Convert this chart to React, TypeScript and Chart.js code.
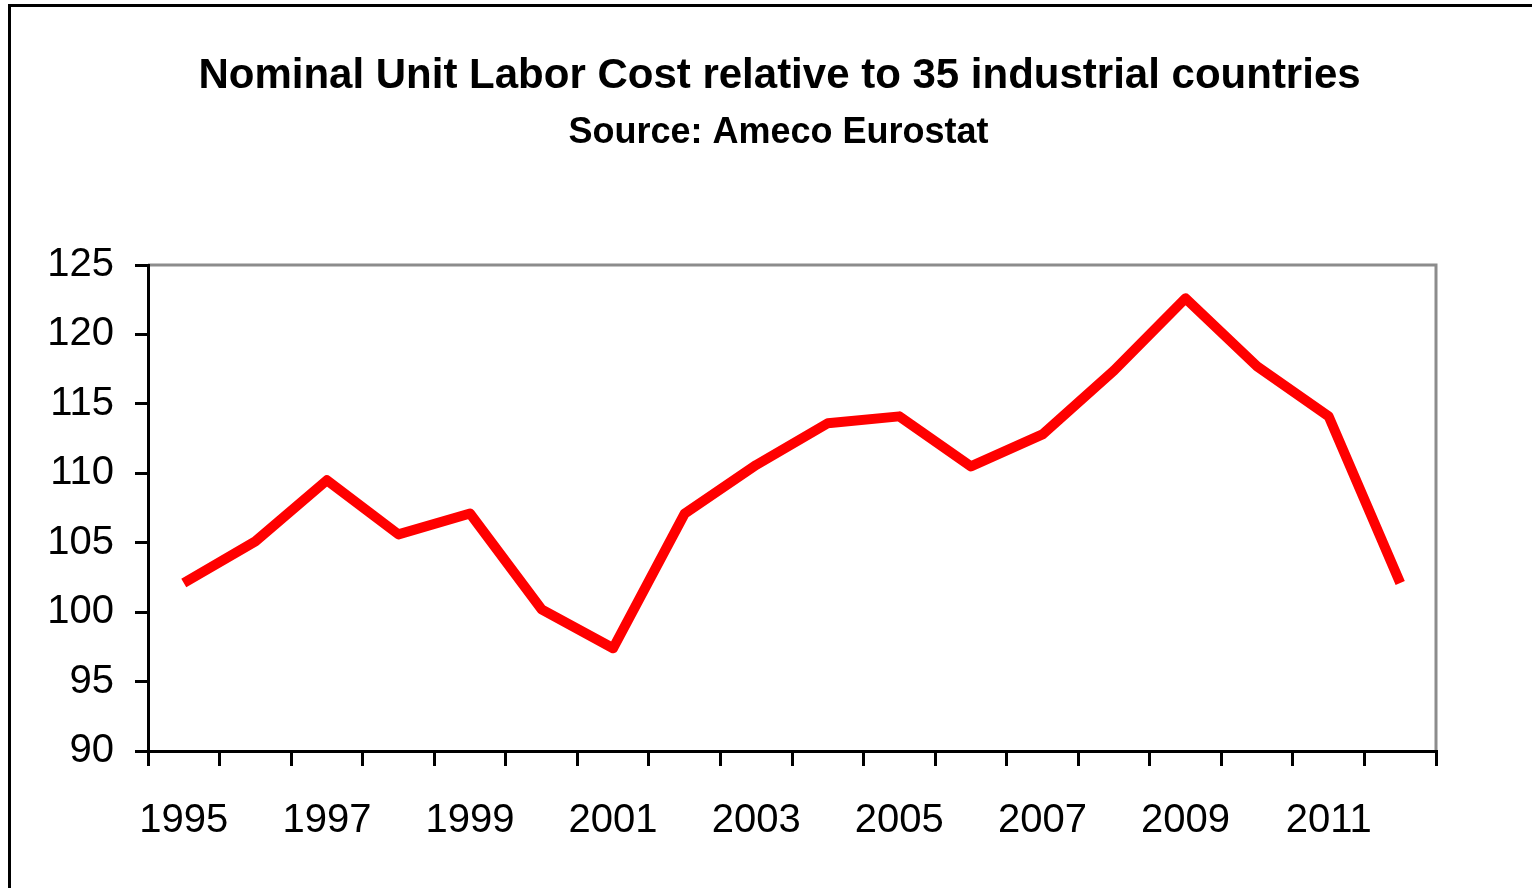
import React, { useEffect, useRef } from "react";
import { Chart, registerables } from "chart.js";

Chart.register(...registerables);

const years: string[] = [
  "1995", "1996", "1997", "1998", "1999", "2000", "2001", "2002", "2003",
  "2004", "2005", "2006", "2007", "2008", "2009", "2010", "2011", "2012",
];

const unitLaborCost: number[] = [
  102.1, 105.1, 109.5, 105.6, 107.1, 100.2, 97.4, 107.1, 110.6,
  113.6, 114.1, 110.5, 112.8, 117.4, 122.6, 117.7, 114.1, 102.1,
];

const yMin = 90;
const yMax = 125;
const yStep = 5;

const titleText = "Nominal Unit Labor Cost relative to 35 industrial countries";
const subtitleText = "Source: Ameco Eurostat";

const FONT = "'Liberation Sans', Arial, Helvetica, sans-serif";

const framePlugin = {
  id: "greyFrame",
  beforeDraw(chart: any) {
    const { ctx, chartArea } = chart;
    if (!chartArea) return;
    ctx.save();
    ctx.strokeStyle = "#8c8c8c";
    ctx.lineWidth = 3;
    ctx.beginPath();
    ctx.moveTo(chartArea.left, chartArea.top);
    ctx.lineTo(chartArea.right, chartArea.top);
    ctx.lineTo(chartArea.right, chartArea.bottom);
    ctx.stroke();
    ctx.restore();
  },
};

const headingPlugin = {
  id: "headings",
  afterDraw(chart: any) {
    const { ctx } = chart;
    ctx.save();
    ctx.fillStyle = "#000";
    ctx.textAlign = "center";
    ctx.textBaseline = "alphabetic";
    ctx.font = `bold 42px ${FONT}`;
    ctx.fillText(titleText, 779.5, 88);
    ctx.font = `bold 36px ${FONT}`;
    ctx.fillText(subtitleText, 778.5, 143);
    ctx.restore();
  },
};

export default function App() {
  const canvasRef = useRef<HTMLCanvasElement | null>(null);

  useEffect(() => {
    if (!canvasRef.current) return;
    const chart = new Chart(canvasRef.current, {
      type: "line",
      data: {
        labels: years,
        datasets: [
          {
            label: "Nominal ULC",
            data: unitLaborCost,
            borderColor: "#ff0000",
            backgroundColor: "#ff0000",
            borderWidth: 10,
            pointRadius: 0,
            tension: 0,
            borderJoinStyle: "round",
            borderCapStyle: "butt",
          },
        ],
      },
      options: {
        responsive: false,
        animation: false,
        devicePixelRatio: 1,
        layout: { padding: { left: 0, right: 96, top: 265, bottom: 0 } },
        plugins: {
          legend: { display: false },
          tooltip: { enabled: false },
          title: { display: false },
        },
        scales: {
          x: {
            type: "category",
            offset: true,
            afterFit: (s: any) => {
              s.height = 137;
            },
            grid: {
              offset: true,
              drawOnChartArea: false,
              drawTicks: true,
              tickLength: 15,
              color: "#000",
              lineWidth: 3,
            },
            border: { display: true, color: "#000", width: 3 },
            ticks: {
              autoSkip: false,
              maxRotation: 0,
              minRotation: 0,
              padding: 31,
              color: "#000",
              font: { family: FONT, size: 40 },
              callback: (_v: any, i: number) => (i % 2 === 0 ? years[i] : ""),
            },
          },
          y: {
            min: yMin,
            max: yMax,
            afterFit: (s: any) => {
              s.width = 148;
            },
            grid: {
              drawOnChartArea: false,
              drawTicks: true,
              tickLength: 13,
              color: "#000",
              lineWidth: 3,
            },
            border: { display: true, color: "#000", width: 3 },
            ticks: {
              stepSize: yStep,
              padding: 21,
              color: "#000",
              font: { family: FONT, size: 40 },
            },
          },
        },
      },
      plugins: [framePlugin, headingPlugin],
    });
    return () => chart.destroy();
  }, []);

  return (
    <>
      <div
        style={{
          position: "fixed",
          left: 8,
          top: 4,
          width: "calc(100vw - 8px)",
          height: "calc(100vh - 4px)",
          borderLeft: "3px solid #000",
          borderTop: "3px solid #000",
          boxSizing: "border-box",
          pointerEvents: "none",
          zIndex: 2,
        }}
      />
      <canvas
        ref={canvasRef}
        width={1532}
        height={888}
        style={{ position: "fixed", left: 0, top: 0, width: 1532, height: 888, background: "#fff" }}
      />
    </>
  );
}
